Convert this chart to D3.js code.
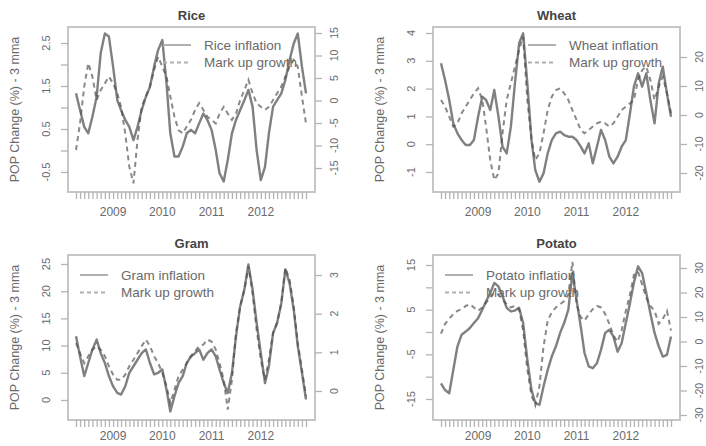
<!DOCTYPE html>
<html>
<head>
<meta charset="utf-8">
<script src="https://cdn.jsdelivr.net/npm/d3@7"></script>
<style>
body { margin: 0; background: #fff; }
text { font-family: "Liberation Sans", Arial, sans-serif; }
</style>
</head>
<body>
<div id="chart"></div>
<script>
// Monthly observations, Apr 2008 - Dec 2012
let months = d3.timeMonth.range(new Date(2008, 3, 1), new Date(2013, 0, 1));
let years = [2009, 2010, 2011, 2012];

let riceInfl = [1.33,0.94,0.55,0.40,0.79,1.25,2.26,2.72,2.65,1.95,
    1.17,0.94,0.71,0.55,0.24,0.55,0.94,1.25,1.48,1.95,
    2.34,2.57,1.56,0.40,-0.14,-0.14,0.09,0.40,0.48,0.40,
    0.63,0.86,0.71,0.48,0.01,-0.53,-0.72,-0.22,0.40,0.71,
    0.94,1.17,1.41,1.02,0.01,-0.69,-0.38,0.40,1.02,1.17,
    1.33,1.64,2.10,2.49,2.72,1.95,1.33];
let riceMarkup = [-11.0,-5.1,3.1,8.3,5.3,0.1,2.3,3.8,5.3,3.8,
    1.6,-1.4,-7.3,-14.7,-18.4,-8.8,-1.4,0.9,3.1,6.8,
    9.7,7.5,5.3,0.9,-3.6,-6.6,-7.3,-5.8,-4.3,-2.1,
    -0.6,-2.1,-3.6,-4.3,-5.1,-2.9,-1.4,-2.9,-4.3,-2.9,
    0.1,2.3,4.6,1.6,-0.6,-1.4,-2.1,-1.4,0.1,1.6,
    3.1,5.3,7.5,9.0,7.5,0.9,-5.1];

let wheatInfl = [2.91,2.31,1.59,0.75,0.39,0.15,-0.03,-0.03,0.15,0.99,
    1.71,1.59,1.23,1.95,0.99,-0.09,-0.33,0.63,2.19,3.63,
    3.99,2.19,0.15,-0.93,-1.35,-1.05,-0.33,0.15,0.39,0.45,
    0.33,0.27,0.27,0.15,-0.09,-0.33,0.03,-0.69,-0.09,0.51,
    0.15,-0.45,-0.69,-0.45,-0.09,0.15,1.11,2.07,2.55,2.07,
    2.55,1.59,0.75,2.19,2.79,1.83,0.99];
let wheatMarkup = [5.2,2.9,-0.6,-4.0,-2.9,0.6,2.9,5.2,7.5,9.2,
    5.2,-4.0,-15.5,-22.4,-20.1,-6.3,5.2,10.9,16.7,22.4,
    27.0,5.2,-8.6,-15.5,-13.2,-6.3,1.7,6.3,8.6,9.2,
    7.5,5.2,1.7,-1.7,-5.2,-6.3,-5.2,-4.0,-2.9,-2.3,
    -2.9,-4.0,-2.9,-0.6,1.7,2.9,4.0,5.2,12.1,15.5,
    16.7,12.1,5.2,9.8,13.2,7.5,0.6];

let gramInfl = [11.7,8.0,4.4,6.8,9.3,11.1,8.6,6.8,4.4,2.5,
    1.3,1.0,2.5,5.0,6.2,7.4,8.6,9.3,6.8,4.7,
    5.0,5.6,1.9,-2.1,0.7,3.1,4.4,6.8,8.0,8.6,
    9.3,7.4,8.6,9.3,8.0,5.6,3.1,1.3,5.0,11.7,
    17.2,20.3,24.9,20.3,14.2,8.6,3.1,6.2,12.3,14.2,
    17.8,24.0,21.5,16.6,9.9,5.0,0.1];
let gramMarkup = [1.24,0.98,0.72,0.90,1.07,1.16,1.07,0.90,0.64,0.42,
    0.29,0.29,0.42,0.64,0.81,0.98,1.16,1.33,1.16,0.90,
    0.72,0.47,0.12,-0.31,0.03,0.38,0.55,0.72,0.90,1.03,
    1.16,1.20,1.33,1.28,1.07,0.72,0.29,-0.48,0.29,1.50,
    2.19,2.62,3.22,2.53,1.59,0.81,0.29,0.81,1.50,1.76,
    2.28,3.18,2.88,2.19,1.24,0.55,-0.14];

let potatoInfl = [-11.5,-13.0,-13.7,-8.5,-3.2,-0.6,0.1,0.9,2.0,3.1,
    5.0,6.9,8.7,11.0,10.2,8.0,5.4,4.6,4.8,5.4,
    2.0,-6.2,-13.0,-15.9,-16.3,-12.2,-8.5,-5.5,-3.2,-0.2,
    2.0,5.0,13.2,7.2,1.2,-4.7,-7.7,-8.1,-7.0,-4.0,
    -0.2,0.5,-1.0,-4.4,-2.5,2.0,6.5,11.0,14.7,13.2,
    8.7,4.2,-0.2,-3.2,-5.5,-5.1,-1.0];
let potatoMarkup = [3.2,7.2,9.2,11.2,12.5,13.2,14.5,15.2,13.9,12.5,
    13.9,15.9,17.9,19.9,19.2,17.2,15.2,13.9,14.5,13.2,
    4.5,-11.5,-22.1,-26.1,-18.1,-2.1,8.5,11.9,13.9,15.2,
    16.5,19.2,32.5,15.2,9.9,8.5,11.2,13.2,14.5,13.9,
    11.2,7.2,2.5,-0.1,4.5,12.5,19.2,27.2,28.5,23.2,
    17.9,14.5,12.5,7.2,9.2,12.5,4.5];

// Tick values and the ones that carry labels
let riceLeftTicks = [-0.5, 0, 0.5, 1, 1.5, 2, 2.5];
let riceLeftLabels = [-0.5, 0.5, 1.5, 2.5];
let riceRightTicks = [-15, -10, -5, 0, 5, 10, 15];
let wheatLeftTicks = [-1, 0, 1, 2, 3, 4];
let wheatRightTicks = [-20, -10, 0, 10, 20];
let gramLeftTicks = [0, 5, 10, 15, 20, 25];
let gramRightTicks = [0, 1, 2, 3];
let potatoLeftTicks = [-15, -10, -5, 0, 5, 10, 15];
let potatoLeftLabels = [-15, -5, 5, 15];
let potatoRightTicks = [-30, -20, -10, 0, 10, 20, 30];

let yTitle = 'POP Change (%) - 3 mma';

let chart_width = 706;
let chart_height = 446;

let svg = d3.select('#chart')
    .append('svg')
    .attr('width', chart_width)
    .attr('height', chart_height);

// layout of each panel (box = x0, y0, x1, y1 in panel coords)
let panels = [
    { name: 'Rice', infl: riceInfl, markup: riceMarkup,
      leftTicks: riceLeftTicks, leftLabels: riceLeftLabels, rightTicks: riceRightTicks,
      ox: 0, oy: 0, box: [68, 27, 315, 192], leftRange: [172, 43], rightRange: [168, 33],
      legend: 'right', yearOffset: 24 },
    { name: 'Wheat', infl: wheatInfl, markup: wheatMarkup,
      leftTicks: wheatLeftTicks, leftLabels: wheatLeftTicks, rightTicks: wheatRightTicks,
      ox: 353, oy: 0, box: [80, 27, 327, 192], leftRange: [172, 33], rightRange: [173, 57],
      legend: 'right', yearOffset: 24 },
    { name: 'Gram', infl: gramInfl, markup: gramMarkup,
      leftTicks: gramLeftTicks, leftLabels: gramLeftTicks, rightTicks: gramRightTicks,
      ox: 0, oy: 223, box: [68, 32, 315, 197], leftRange: [177, 41], rightRange: [168, 52],
      legend: 'left', yearOffset: 20 },
    { name: 'Potato', infl: potatoInfl, markup: potatoMarkup,
      leftTicks: potatoLeftTicks, leftLabels: potatoLeftLabels, rightTicks: potatoRightTicks,
      ox: 353, oy: 223, box: [80, 32, 327, 197], leftRange: [176, 42], rightRange: [192, 45],
      legend: 'left', yearOffset: 20 }
];

let lineColor = '#4a4a4a';
let axisColor = '#b4b4b4';
let textColor = '#6a6a6a';

panels.forEach(function(p) {
    let g = svg.append('g')
        .attr('transform', 'translate(' + p.ox + ',' + p.oy + ')');
    let x0 = p.box[0], y0 = p.box[1], x1 = p.box[2], y1 = p.box[3];

    let xScale = d3.scaleTime()
        .domain([months[0], months[months.length - 1]])
        .range([x0 + 8, x1 - 9]);
    let yLeft = d3.scaleLinear()
        .domain(d3.extent(p.leftTicks))
        .range(p.leftRange);
    let yRight = d3.scaleLinear()
        .domain(d3.extent(p.rightTicks))
        .range(p.rightRange);

    // lines
    let inflLine = d3.line()
        .x(function(d, i) { return xScale(months[i]); })
        .y(function(d) { return yLeft(d); });
    let markLine = d3.line()
        .x(function(d, i) { return xScale(months[i]); })
        .y(function(d) { return yRight(d); });

    g.append('path')
        .datum(p.markup)
        .attr('d', markLine)
        .attr('fill', 'none')
        .attr('stroke', lineColor)
        .attr('stroke-opacity', 0.65)
        .attr('stroke-width', 2)
        .attr('stroke-dasharray', '5,4');

    g.append('path')
        .datum(p.infl)
        .attr('d', inflLine)
        .attr('fill', 'none')
        .attr('stroke', lineColor)
        .attr('stroke-opacity', 0.7)
        .attr('stroke-width', 2.4)
        .attr('stroke-linejoin', 'round');

    // box
    g.append('rect')
        .attr('x', x0)
        .attr('y', y0)
        .attr('width', x1 - x0)
        .attr('height', y1 - y0)
        .attr('fill', 'none')
        .attr('stroke', '#c6c6c6')
        .attr('stroke-width', 2);

    // axes (ticks only, labels drawn rotated below)
    let leftAxis = d3.axisLeft(yLeft).tickValues(p.leftTicks).tickSize(7).tickFormat('');
    let rightAxis = d3.axisRight(yRight).tickValues(p.rightTicks).tickSize(7).tickFormat('');
    let bottomAxis = d3.axisBottom(xScale).tickValues(months).tickSize(7).tickFormat('');

    let axes = [
        g.append('g').attr('transform', 'translate(' + x0 + ',0)').call(leftAxis),
        g.append('g').attr('transform', 'translate(' + x1 + ',0)').call(rightAxis),
        g.append('g').attr('transform', 'translate(0,' + y1 + ')').call(bottomAxis)
    ];
    axes.forEach(function(a) {
        a.select('.domain').remove();
        a.selectAll('line').attr('stroke', axisColor).attr('stroke-width', 1.3);
    });

    g.append('g')
        .selectAll('text')
        .data(p.leftLabels)
        .enter()
        .append('text')
        .attr('transform', function(d) {
            return 'translate(' + (x0 - 22) + ',' + yLeft(d) + ') rotate(-90)';
        })
        .attr('dy', '0.35em')
        .attr('text-anchor', 'middle')
        .attr('font-size', 11)
        .attr('fill', textColor)
        .text(function(d) { return String(d); });

    g.append('g')
        .selectAll('text')
        .data(p.rightTicks)
        .enter()
        .append('text')
        .attr('transform', function(d) {
            return 'translate(' + (x1 + 19) + ',' + yRight(d) + ') rotate(-90)';
        })
        .attr('dy', '0.35em')
        .attr('text-anchor', 'middle')
        .attr('font-size', 10.5)
        .attr('fill', textColor)
        .text(function(d) { return String(d); });

    g.append('g')
        .selectAll('text')
        .data(years)
        .enter()
        .append('text')
        .attr('x', function(d) { return xScale(new Date(d, 0, 1)); })
        .attr('y', y1 + p.yearOffset)
        .attr('text-anchor', 'middle')
        .attr('font-size', 12)
        .attr('fill', textColor)
        .text(function(d) { return d; });

    // y title
    g.append('text')
        .attr('transform', 'translate(' + (x0 - 53) + ',' + ((y0 + y1) / 2) + ') rotate(-90)')
        .attr('dy', '0.35em')
        .attr('text-anchor', 'middle')
        .attr('font-size', 12.5)
        .attr('fill', textColor)
        .text(yTitle);

    // panel title
    g.append('text')
        .attr('x', (x0 + x1) / 2)
        .attr('y', y0 - 12)
        .attr('dy', '0.35em')
        .attr('text-anchor', 'middle')
        .attr('font-size', 13)
        .attr('font-weight', 'bold')
        .attr('fill', '#444')
        .text(p.name);

    // legend
    let lx = p.legend === 'right' ? x1 - 152 : x0 + 12;
    let ly = p.legend === 'right' ? y0 + 18 : y0 + 20;
    let items = [
        { label: p.name + ' inflation', dash: null },
        { label: 'Mark up growth', dash: '4,3' }
    ];
    let leg = g.append('g');
    leg.selectAll('line')
        .data(items)
        .enter()
        .append('line')
        .attr('x1', lx)
        .attr('x2', lx + 28)
        .attr('y1', function(d, i) { return ly + i * 17.5; })
        .attr('y2', function(d, i) { return ly + i * 17.5; })
        .attr('stroke', '#b0b0b0')
        .attr('stroke-width', 2)
        .attr('stroke-dasharray', function(d) { return d.dash; });
    leg.selectAll('text')
        .data(items)
        .enter()
        .append('text')
        .attr('x', lx + 41)
        .attr('y', function(d, i) { return ly + i * 17.5; })
        .attr('dy', '0.35em')
        .attr('font-size', 13.5)
        .attr('fill', textColor)
        .text(function(d) { return d.label; });
});
</script>
</body>
</html>
